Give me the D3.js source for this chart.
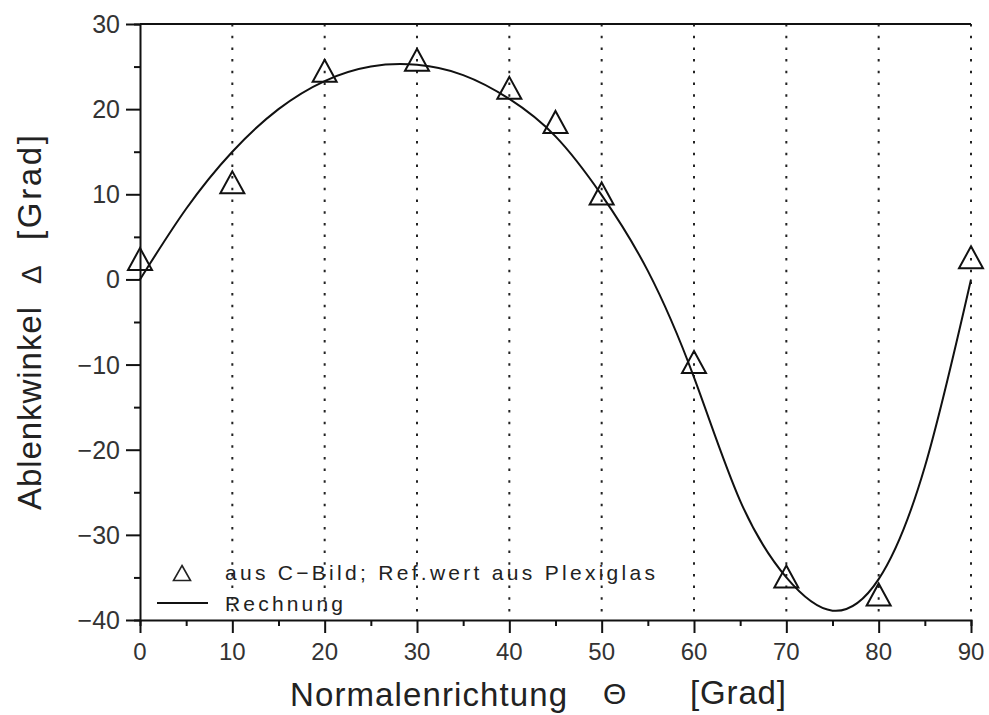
<!DOCTYPE html>
<html>
<head>
<meta charset="utf-8">
<script src="https://cdn.jsdelivr.net/npm/d3@7"></script>
<style>
  body { margin: 0; background: #fff; }
  text { font-family: "Liberation Sans", Arial, sans-serif; fill: #222; }
</style>
</head>
<body>
<svg id="chart"></svg>
<script>
// measured points (triangles)
const measTheta = [0, 10, 20, 30, 40, 45, 50, 60, 70, 80, 90];
const measDelta = [2.4, 11.4, 24.5, 25.8, 22.5, 18.5, 10.1, -9.7, -34.9, -37.0, 2.6];

// calculated curve
const calcTheta = [0, 5, 10, 15, 20, 25, 30, 35, 40, 45, 50, 55, 60, 65, 70, 75, 80, 85, 90];
const calcDelta = [0, 8.3, 15.0, 20.0, 23.3, 25.0, 25.2, 24.0, 21.2, 16.8, 9.9, 1.0, -11.5, -26.0, -35.0, -38.9, -35.2, -22.0, 0];

const xTicks = [0, 10, 20, 30, 40, 50, 60, 70, 80, 90];
const yTicks = [-40, -30, -20, -10, 0, 10, 20, 30];
const gridTicks = [10, 20, 30, 40, 50, 60, 70, 80, 90];

const legendLabels = ["aus C\u2212Bild; Ref.wert aus Plexiglas", "Rechnung"];

const width = 989, height = 715;

const svg = d3.select("#chart")
    .attr("width", width)
    .attr("height", height);

const x = d3.scaleLinear().domain([0, 90]).range([140, 971]);
const y = d3.scaleLinear().domain([-40, 30]).range([620, 24]);

// dotted vertical grid
svg.selectAll(".grid")
  .data(gridTicks)
  .join("line")
    .attr("x1", d => x(d)).attr("x2", d => x(d))
    .attr("y1", y(30)).attr("y2", y(-40))
    .attr("stroke", "#222")
    .attr("stroke-width", 2)
    .attr("stroke-dasharray", "2.5,9.2");

// top frame line
svg.append("line")
    .attr("x1", x(0)).attr("x2", x(90))
    .attr("y1", y(30)).attr("y2", y(30))
    .attr("stroke", "#111").attr("stroke-width", 2);

// x axis
const xAxis = svg.append("g")
    .attr("transform", `translate(0,${y(-40)})`)
    .call(d3.axisBottom(x).tickValues(d3.range(0, 91, 5)).tickSize(6).tickFormat(""));
xAxis.select(".domain").attr("stroke", "#111").attr("stroke-width", 2);
xAxis.selectAll(".tick line")
    .attr("stroke", "#111").attr("stroke-width", 2)
    .attr("y2", d => d % 10 === 0 ? 13 : 6);

svg.selectAll(".xlab")
  .data(xTicks)
  .join("text")
    .attr("x", d => x(d))
    .attr("y", 660)
    .attr("text-anchor", "middle")
    .style("font-size", "24px")
    .style("fill", "#333")
    .text(d => d);

// y axis
const yAxis = svg.append("g")
    .attr("transform", `translate(${x(0)},0)`)
    .call(d3.axisLeft(y).tickValues(d3.range(-40, 31, 5)).tickSize(6).tickFormat(""));
yAxis.select(".domain").attr("stroke", "#111").attr("stroke-width", 2);
yAxis.selectAll(".tick line")
    .attr("stroke", "#111").attr("stroke-width", 2)
    .attr("x2", d => d % 10 === 0 ? -14 : -6);

svg.selectAll(".ylab")
  .data(yTicks)
  .join("text")
    .attr("x", 120)
    .attr("y", d => y(d))
    .attr("dy", "0.36em")
    .attr("text-anchor", "end")
    .style("font-size", "25px")
    .style("fill", "#333")
    .text(d => d3.format("d")(d).replace("-", "\u2212"));

// curve (Rechnung)
const line = d3.line()
    .x(d => x(d[0]))
    .y(d => y(d[1]))
    .curve(d3.curveNatural);

svg.append("path")
    .datum(d3.zip(calcTheta, calcDelta))
    .attr("d", line)
    .attr("fill", "none")
    .attr("stroke", "#111")
    .attr("stroke-width", 2);

// triangles
const tri = d3.line()([[0, -11], [12, 11], [-12, 11]]) + "Z";
svg.selectAll(".meas")
  .data(d3.zip(measTheta, measDelta))
  .join("path")
    .attr("d", tri)
    .attr("transform", d => `translate(${x(d[0])},${y(d[1])})`)
    .attr("fill", "none")
    .attr("stroke", "#111")
    .attr("stroke-width", 2);

// legend
svg.append("path")
    .attr("d", d3.line()([[0, -7.5], [8.5, 7.5], [-8.5, 7.5]]) + "Z")
    .attr("transform", "translate(182,573)")
    .attr("fill", "none")
    .attr("stroke", "#222")
    .attr("stroke-width", 1.6);

svg.append("line")
    .attr("x1", 157).attr("x2", 208)
    .attr("y1", 603).attr("y2", 603)
    .attr("stroke", "#111").attr("stroke-width", 2);

svg.selectAll(".leg")
  .data(legendLabels)
  .join("text")
    .attr("x", 225)
    .attr("y", (d, i) => 580 + i * 31)
    .attr("textLength", (d, i) => i === 0 ? 430 : 118)
    .attr("lengthAdjust", "spacing")
    .style("font-size", "21px")
    .text(d => d);

// axis titles
svg.append("text")
    .attr("x", 290).attr("y", 706)
    .attr("textLength", 277)
    .style("font-size", "33px")
    .text("Normalenrichtung");
svg.append("text")
    .attr("x", 603).attr("y", 704)
    .style("font-size", "30px")
    .text("\u0398");
svg.append("text")
    .attr("x", 690).attr("y", 704)
    .attr("textLength", 96)
    .style("font-size", "33px")
    .text("[Grad]");

svg.append("text")
    .attr("transform", "translate(41,510) rotate(-90)")
    .attr("textLength", 203)
    .style("font-size", "33px")
    .text("Ablenkwinkel");
svg.append("text")
    .attr("transform", "translate(41,284) rotate(-90)")
    .style("font-size", "28px")
    .text("\u0394");
svg.append("text")
    .attr("transform", "translate(41,240) rotate(-90)")
    .attr("textLength", 105)
    .style("font-size", "33px")
    .text("[Grad]");
</script>
</body>
</html>
